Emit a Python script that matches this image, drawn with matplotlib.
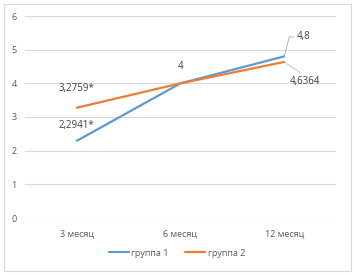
import matplotlib
matplotlib.use("Agg")
import matplotlib.pyplot as plt
from matplotlib.patches import Rectangle

categories = ["3 месяц", "6 месяц", "12 месяц"]
group1 = [2.2941, 4.0, 4.8]
group2 = [3.2759, 4.0, 4.6364]
labels1 = ["2,2941*", "4", "4,8"]
labels2 = ["3,2759*", "", "4,6364"]
yticks = [0, 1, 2, 3, 4, 5, 6]

plt.rcParams['font.family'] = ['Open Sans', 'DejaVu Sans']
W, H = 354, 275
fig = plt.figure(figsize=(W/100, H/100), dpi=100)
fig.patches.append(Rectangle((4/W, 4/H), 347/W, 267/H, transform=fig.transFigure,
                             fill=False, edgecolor='#d9d9d9', linewidth=0.8))
ax = fig.add_axes([25/W, 1-218/H, 311/W, 202/H])
x = list(range(len(categories)))
c1, c2 = '#5B9BD5', '#ED7D31'
ax.plot(x, group1, color=c1, lw=1.6, label='группа 1', solid_capstyle='round', zorder=3)
ax.plot(x, group2, color=c2, lw=1.6, label='группа 2', solid_capstyle='round', zorder=3)
ax.set_xlim(-0.5, 2.5)
ax.set_ylim(0, 6)
ax.set_yticks(yticks)
ax.set_xticks(x)
ax.set_xticklabels(categories)
ax.grid(axis='y', color='#d9d9d9', lw=0.8)
ax.set_axisbelow(True)
for s in ax.spines.values():
    s.set_visible(False)
ax.tick_params(length=0, labelsize=6.5, colors='#595959')
ax.tick_params(axis='x', pad=8)
ax.tick_params(axis='y', pad=6)

tc = '#404040'
fs = 7
ax.annotate(labels2[0], (x[0], group2[0]), xytext=(0, 10), textcoords='offset points',
            ha='center', va='bottom', fontsize=fs, color=tc)
ax.annotate(labels1[0], (x[0], group1[0]), xytext=(0, 7), textcoords='offset points',
            ha='center', va='bottom', fontsize=fs, color=tc)
ax.annotate(labels1[1], (x[1], group1[1]), xytext=(0, 8), textcoords='offset points',
            ha='center', va='bottom', fontsize=fs, color=tc)
ax.annotate(labels1[2], (x[2], group1[2]), xytext=(9, 14), textcoords='offset points',
            ha='left', va='center', fontsize=fs, color=tc,
            arrowprops=dict(arrowstyle='-', color='#a6a6a6', lw=0.6,
                            connectionstyle='angle,angleA=0,angleB=75,rad=0',
                            shrinkA=0, shrinkB=0, relpos=(0, 0.5)))
ax.annotate(labels2[2], (x[2], group2[2]), xytext=(4, -14), textcoords='offset points',
            ha='left', va='center', fontsize=fs, color=tc,
            arrowprops=dict(arrowstyle='-', color='#bfbfbf', lw=0.6,
                            shrinkA=0, shrinkB=0, relpos=(0.5, 1)))

leg = fig.legend(loc='center', bbox_to_anchor=(0.5, 1-253/H), ncol=2, frameon=False,
                 fontsize=6.5, handlelength=2.2, handletextpad=0.3, columnspacing=1.8)
for t in leg.get_texts():
    t.set_color('#595959')
fig.savefig('out.png', dpi=100)
